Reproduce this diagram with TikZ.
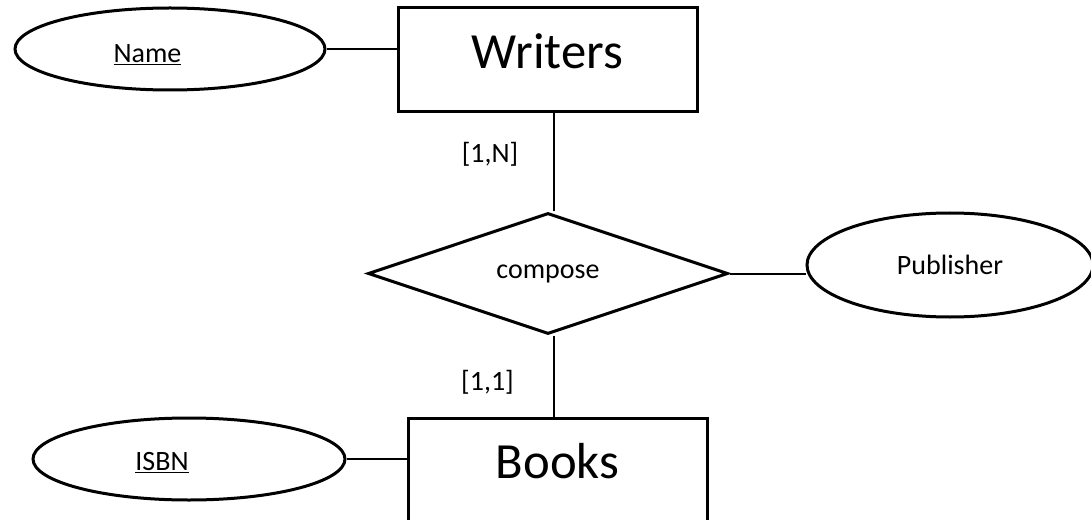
\documentclass[tikz,border=0pt]{standalone}
\usepackage{fontspec}
\setmainfont{Carlito}
\usetikzlibrary{shapes.geometric}
\begin{document}
\begin{tikzpicture}[x=0.75pt, y=-0.75pt,
    entity/.style={draw, line width=2.25pt, rectangle, inner sep=0pt,
      minimum width=224.25pt, minimum height=78pt, text depth=13.5pt,
      font=\fontsize{38}{44}\selectfont},
    attrib/.style={draw, line width=2.25pt, ellipse, inner sep=0pt,
      font=\fontsize{21}{25}\selectfont},
    keytext/.style={font=\fontsize{21}{25}\selectfont},
    rel/.style={draw, line width=2.25pt, diamond, aspect=3, inner sep=0pt,
      minimum width=270pt, minimum height=90.75pt,
      font=\fontsize{21}{25}\selectfont},
    card/.style={font=\fontsize{21}{25}\selectfont},
    link/.style={line width=1.5pt}]
  \useasboundingbox (0,0) rectangle (1091,520);
  \clip (0,0) rectangle (1091,520);

  % entities
  \node[entity] (writers) at (547.5,60) {Writers};
  \node[entity] (books) at (557.5,470) {Books};

  % relationship
  \node[rel] (compose) at (548,273.5) {compose};

  % attributes
  \node[attrib, minimum width=232.5pt, minimum height=61.5pt,
    label={[keytext, xshift=-16.9pt, yshift=-4.5pt]center:\underline{Name}}] (name) at (170,49) {};
  \node[attrib, minimum width=234pt, minimum height=61.5pt,
    label={[keytext, xshift=-20.25pt, yshift=-3pt]center:\underline{ISBN}}] (isbn) at (189,459) {};
  \node[attrib, minimum width=214.5pt, minimum height=78pt] (publisher) at (950,265) {Publisher};

  % cardinalities
  \node[card] (cardw) at (490,154) {[1,N]};
  \node[card] (cardb) at (487.5,382) {[1,1]};

  % links
  \draw[link] (name.east) -- (name.east -| writers.west);
  \draw[link] (isbn.east) -- (isbn.east -| books.west);
  \draw[link] ([xshift=4.5pt]compose.north) -- ([xshift=4.5pt]compose.north |- writers.south);
  \draw[link] ([xshift=4.5pt]compose.south) -- ([xshift=4.5pt]compose.south |- books.north);
  \draw[link] (compose.east) -- (compose.east -| publisher.west);
\end{tikzpicture}
\end{document}
